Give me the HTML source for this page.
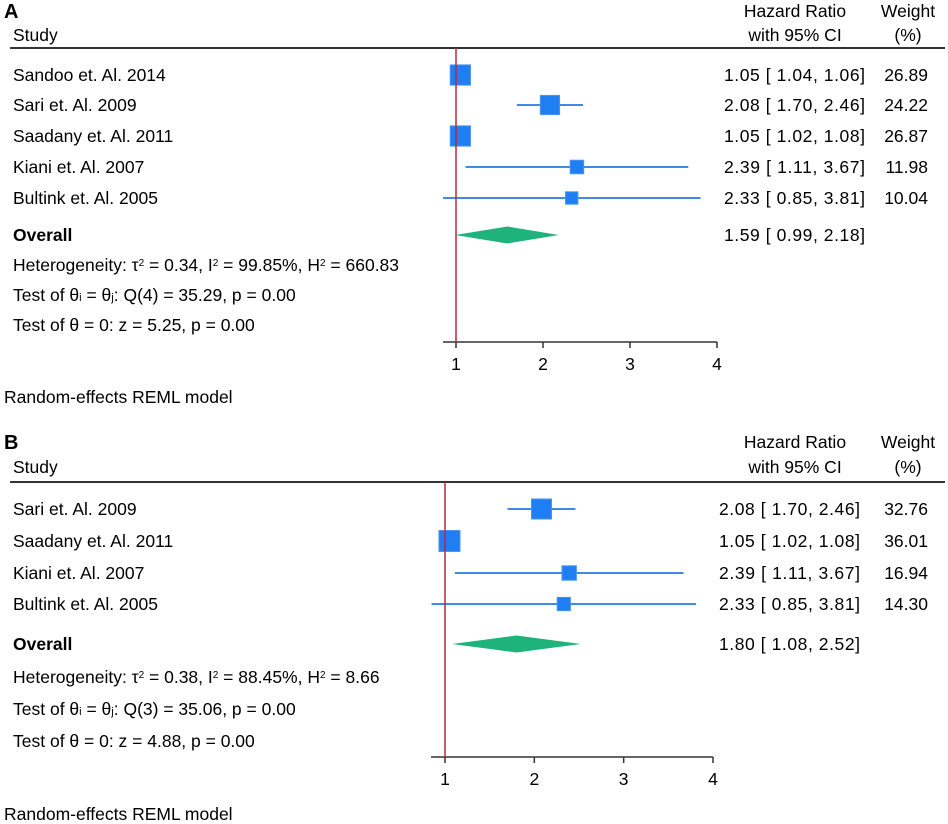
<!DOCTYPE html>
<html><head><meta charset="utf-8"><style>
body{margin:0;background:#fff;}
svg{display:block;font-family:"Liberation Sans",Arial,sans-serif;}
</style></head><body>
<svg id="chart" width="948" height="824" viewBox="0 0 948 824"></svg>
<script>
// Panel A data
const studiesA = ["Sandoo et. Al. 2014","Sari et. Al. 2009","Saadany et. Al. 2011","Kiani et. Al. 2007","Bultink et. Al. 2005"];
const hrA = [1.05, 2.08, 1.05, 2.39, 2.33];
const lowA = [1.04, 1.70, 1.02, 1.11, 0.85];
const highA = [1.06, 2.46, 1.08, 3.67, 3.81];
const weightA = [26.89, 24.22, 26.87, 11.98, 10.04];
const overallA = [1.59, 0.99, 2.18];
const statsA = ["Heterogeneity: τ<tspan baseline-shift=\"super\" font-size=\"10\">2</tspan> = 0.34, I<tspan baseline-shift=\"super\" font-size=\"10\">2</tspan> = 99.85%, H<tspan baseline-shift=\"super\" font-size=\"10\">2</tspan> = 660.83",
  "Test of θ<tspan font-size=\"11\">i</tspan> = θ<tspan font-size=\"11\">j</tspan>: Q(4) = 35.29, p = 0.00",
  "Test of θ = 0: z = 5.25, p = 0.00"];
// Panel B data
const studiesB = ["Sari et. Al. 2009","Saadany et. Al. 2011","Kiani et. Al. 2007","Bultink et. Al. 2005"];
const hrB = [2.08, 1.05, 2.39, 2.33];
const lowB = [1.70, 1.02, 1.11, 0.85];
const highB = [2.46, 1.08, 3.67, 3.81];
const weightB = [32.76, 36.01, 16.94, 14.30];
const overallB = [1.80, 1.08, 2.52];
const statsB = ["Heterogeneity: τ<tspan baseline-shift=\"super\" font-size=\"10\">2</tspan> = 0.38, I<tspan baseline-shift=\"super\" font-size=\"10\">2</tspan> = 88.45%, H<tspan baseline-shift=\"super\" font-size=\"10\">2</tspan> = 8.66",
  "Test of θ<tspan font-size=\"11\">i</tspan> = θ<tspan font-size=\"11\">j</tspan>: Q(3) = 35.06, p = 0.00",
  "Test of θ = 0: z = 4.88, p = 0.00"];
const ticks = [1, 2, 3, 4];

const NS = "http://www.w3.org/2000/svg";
const svg = document.getElementById("chart");
function mk(tag, attrs, parent, html){
  const e = document.createElementNS(NS, tag);
  for (const k in attrs) e.setAttribute(k, attrs[k]);
  if (html !== undefined) e.innerHTML = html;
  parent.appendChild(e);
  return e;
}
const f = v => v.toFixed(2);

function panel(cfg){
  const g = mk("g", {}, svg);
  
  
  const x = v => cfg.x1 + (v - 1) * (cfg.x4 - cfg.x1) / 3;
  const fs = 17.5;
  let t = mk("text", {x: 4, y: cfg.hy1 + 7, "font-size": 20, "font-weight": "bold"}, g, cfg.label);
  
  
  t = mk("text", {x: 13, y: cfg.hy2 + 6, "font-size": fs}, g, "Study");
  
  
  t = mk("text", {x: 795, y: cfg.hy1 + 6, "font-size": fs, "text-anchor": "middle"}, g, "Hazard Ratio");
  
  
  t = mk("text", {x: 795, y: cfg.hy2 + 6, "font-size": fs, "text-anchor": "middle"}, g, "with 95% CI");
  
  
  t = mk("text", {x: 908, y: cfg.hy1 + 6, "font-size": fs, "text-anchor": "middle"}, g, "Weight");
  
  
  t = mk("text", {x: 908, y: cfg.hy2 + 6, "font-size": fs, "text-anchor": "middle"}, g, "(%)");
  
  
  let l = mk("line", {x1: 10, x2: 945, y1: cfg.hline, y2: cfg.hline, stroke: "#333", "stroke-width": 2}, g);
  
  
  l = mk("line", {x1: cfg.axStart, x2: x(4), y1: cfg.axY, y2: cfg.axY, stroke: "#333", "stroke-width": 1.5}, g);
  
  
  ticks.forEach(v => {
    const tk = mk("line", {x1: x(v), x2: x(v), y1: cfg.axY, y2: cfg.axY + 6, stroke: "#333", "stroke-width": 1.5}, g);
    
    
    const tl = mk("text", {x: x(v), y: cfg.axY + 28, "font-size": fs, "text-anchor": "middle"}, g, String(v));
    
    
  });
  cfg.studies.forEach((s, i) => {
    const y = cfg.rowY[i];
    const n = mk("text", {x: 13, y: y + 6, "font-size": fs}, g, s);
    
    
    const ci = mk("line", {x1: x(cfg.low[i]), x2: x(cfg.high[i]), y1: y, y2: y, stroke: "#3f8ae6", "stroke-width": 2}, g);
    
    
    const sz = cfg.k * Math.sqrt(cfg.w[i]);
    const sq = mk("rect", {x: x(cfg.hr[i]) - sz / 2, y: y - sz / 2, width: sz, height: sz, fill: "#1e7ef2", stroke: "#4a96f0", "stroke-width": 1}, g);
    
    
    const v = mk("text", {x: cfg.valX, y: y + 6, "font-size": fs, textLength: 141, lengthAdjust: "spacing"}, g, f(cfg.hr[i]) + " [ " + f(cfg.low[i]) + ",  " + f(cfg.high[i]) + "]");
    
    
    const wt = mk("text", {x: 928, y: y + 6, "font-size": fs, "text-anchor": "end"}, g, f(cfg.w[i]));
    
    
  });
  const oy = cfg.oY, o = cfg.overall;
  t = mk("text", {x: 13, y: oy + 6, "font-size": fs, "font-weight": "bold"}, g, "Overall");
  
  
  const d = mk("polygon", {points: `${x(o[1])},${oy} ${x(o[0])},${oy - 8.5} ${x(o[2])},${oy} ${x(o[0])},${oy + 8.5}`, fill: "#1db37a"}, g);
  
  
  t = mk("text", {x: cfg.valX, y: oy + 6, "font-size": fs, textLength: 141, lengthAdjust: "spacing"}, g, f(o[0]) + " [ " + f(o[1]) + ",  " + f(o[2]) + "]");
  
  
  cfg.stats.forEach((s, i) => {
    const st = mk("text", {x: 13, y: cfg.statY[i] + 6, "font-size": fs}, g, s);
    
    
  });
  l = mk("line", {x1: x(1), x2: x(1), y1: cfg.hline, y2: cfg.axY, stroke: "#b8283f", "stroke-width": 1.5}, g);
  
  
  t = mk("text", {x: 4, y: cfg.footY + 6, "font-size": fs}, g, "Random-effects REML model");
  
  
}

panel({label: "A", studies: studiesA, hr: hrA, low: lowA, high: highA, w: weightA, overall: overallA, stats: statsA,
  x1: 456, x4: 717, axStart: 443, axY: 342, hy1: 11, hy2: 35, hline: 48,
  rowY: [75, 105, 136, 167, 198], oY: 235, statY: [265, 295, 325], footY: 397, valX: 724, k: 3.9});
panel({label: "B", studies: studiesB, hr: hrB, low: lowB, high: highB, w: weightB, overall: overallB, stats: statsB,
  x1: 445, x4: 713, axStart: 431, axY: 757, hy1: 442, hy2: 467, hline: 482,
  rowY: [509, 541, 573, 604], oY: 644, statY: [677, 709, 741], footY: 814, valX: 719, k: 3.5});
</script>
</body></html>
